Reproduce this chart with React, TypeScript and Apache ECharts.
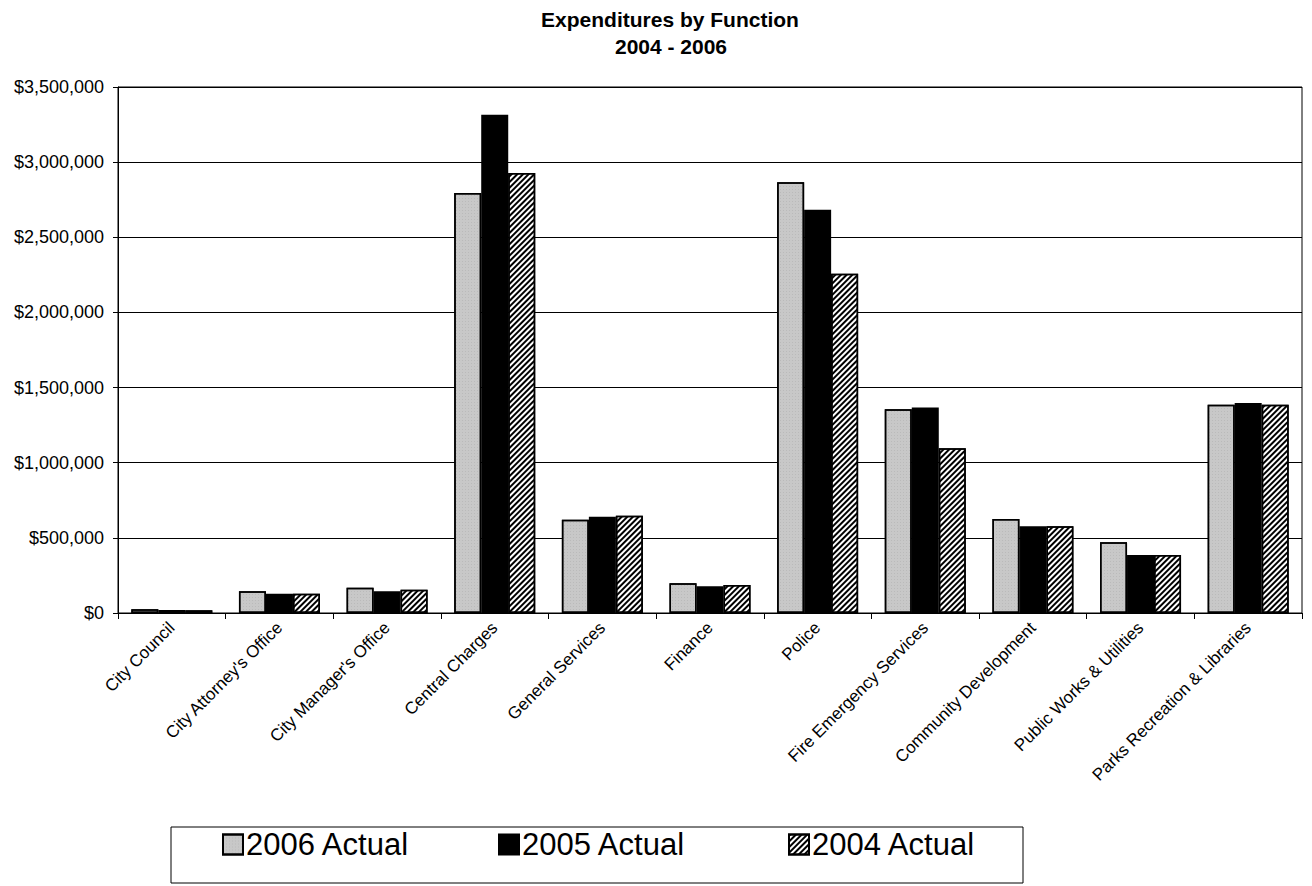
import React, { useEffect, useRef } from "react";
import * as echarts from "echarts";

const categories = [
  "City Council",
  "City Attorney's Office",
  "City Manager's Office",
  "Central Charges",
  "General Services",
  "Finance",
  "Police",
  "Fire Emergency Services",
  "Community Development",
  "Public Works & Utilities",
  "Parks Recreation & Libraries",
];

const actual2006 = [25000, 145000, 168000, 2795000, 620000, 198000, 2867000, 1356000, 626000, 471000, 1385000];
const actual2005 = [20000, 128000, 145000, 3315000, 640000, 178000, 2683000, 1368000, 578000, 386000, 1398000];
const actual2004 = [18000, 128000, 155000, 2927000, 647000, 186000, 2257000, 1097000, 578000, 386000, 1385000];

const seriesNames = ["2006 Actual", "2005 Actual", "2004 Actual"];

const yTicks = { min: 0, max: 3500000, interval: 500000 };

const FONT = "'Liberation Sans', Arial, Helvetica, sans-serif";

function money(v: number): string {
  return "$" + String(Math.round(v)).replace(/\B(?=(\d{3})+(?!\d))/g, ",");
}

export default function App() {
  const ref = useRef<HTMLDivElement>(null);

  useEffect(() => {
    if (!ref.current) return;
    const chart = echarts.init(ref.current, null, { renderer: "svg" });

    const stipple = {
      symbol: "rect",
      color: "rgba(110,110,110,0.55)",
      symbolSize: 0.6,
      dashArrayX: [[1, 2]],
      dashArrayY: [1, 2],
    };
    const hatch = {
      symbol: "rect",
      color: "#000",
      symbolSize: 1,
      dashArrayX: [1, 0],
      dashArrayY: [2, 2],
      rotation: -Math.PI / 4,
    };

    const barBase = {
      type: "bar",
      barWidth: 27,
      barGap: "0%",
    };

    const legendCommon = {
      top: 829,
      padding: 0,
      itemWidth: 20,
      itemHeight: 20,
      itemGap: 0,
      icon: "rect",
      selectedMode: false,
      textStyle: { fontFamily: FONT, fontSize: 31, color: "#000", padding: [0, 0, 0, -2] },
    };

    chart.setOption({
      animation: false,
      backgroundColor: "#fff",
      title: [
        {
          text: "Expenditures by Function",
          left: 670,
          top: 9,
          padding: 0,
          textAlign: "center",
          textStyle: { fontFamily: FONT, fontSize: 21, fontWeight: "bold", color: "#000" },
        },
        {
          text: "2004 - 2006",
          left: 671,
          top: 36,
          padding: 0,
          textAlign: "center",
          textStyle: { fontFamily: FONT, fontSize: 21, fontWeight: "bold", color: "#000" },
        },
      ],
      grid: {
        left: 118,
        right: 10,
        top: 87,
        bottom: 273,
        show: true,
        borderColor: "#000",
        borderWidth: 1,
        containLabel: false,
      },
      legend: [
        { ...legendCommon, left: 222, data: [seriesNames[0]] },
        { ...legendCommon, left: 498, data: [seriesNames[1]] },
        { ...legendCommon, left: 788, data: [seriesNames[2]] },
      ],
      graphic: [
        {
          type: "rect",
          shape: { x: 171, y: 827, width: 852, height: 56 },
          style: { fill: "none", stroke: "#000", lineWidth: 1 },
          z: 10,
        },
      ],
      xAxis: {
        type: "category",
        data: categories,
        boundaryGap: true,
        axisLine: { lineStyle: { color: "#000", width: 1 } },
        axisTick: { show: true, length: 6, inside: false, lineStyle: { color: "#000" } },
        axisLabel: {
          interval: 0,
          rotate: 45,
          margin: 12,
          fontFamily: FONT,
          fontSize: 17,
          color: "#000",
        },
      },
      yAxis: {
        type: "value",
        min: yTicks.min,
        max: yTicks.max,
        interval: yTicks.interval,
        axisLine: { show: true, lineStyle: { color: "#000", width: 1 } },
        axisTick: { show: true, length: 5, lineStyle: { color: "#000" } },
        splitLine: { show: true, lineStyle: { color: "#000", width: 1 } },
        axisLabel: {
          margin: 14,
          fontFamily: FONT,
          fontSize: 18,
          color: "#000",
          formatter: (v: number) => money(v),
        },
      },
      series: [
        {
          ...barBase,
          name: seriesNames[0],
          data: actual2006,
          itemStyle: { color: "#c8c8c8", borderColor: "#000", borderWidth: 1.5, decal: stipple },
        },
        {
          ...barBase,
          name: seriesNames[1],
          data: actual2005,
          itemStyle: { color: "#000", borderColor: "#000", borderWidth: 1.5 },
        },
        {
          ...barBase,
          name: seriesNames[2],
          data: actual2004,
          itemStyle: { color: "#fff", borderColor: "#000", borderWidth: 1.5, decal: hatch },
        },
      ],
    });

    return () => chart.dispose();
  }, []);

  return (
    <div
      ref={ref}
      style={{ position: "absolute", left: 0, top: 0, width: 1312, height: 886 }}
    />
  );
}
